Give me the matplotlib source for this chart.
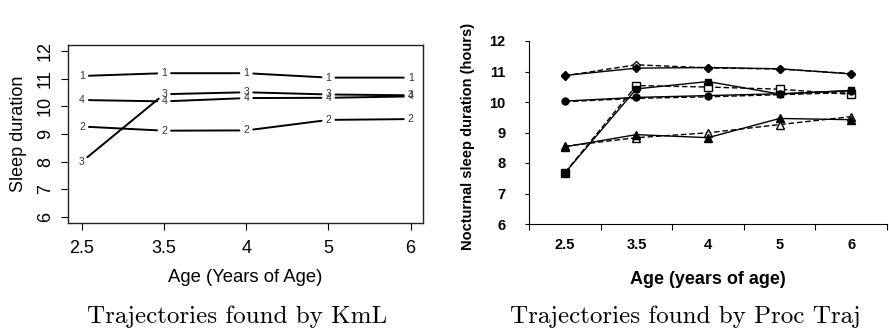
import numpy as np
import matplotlib.pyplot as plt

plt.rcParams['font.family'] = ['Liberation Sans', 'DejaVu Sans']

ages = ['2.5', '3.5', '4', '5', '6']

# KmL clusters (left panel)
kml_1 = [11.10, 11.20, 11.20, 11.04, 11.04]
kml_2 = [9.27, 9.12, 9.13, 9.51, 9.54]
kml_3 = [8.00, 10.44, 10.51, 10.43, 10.40]
kml_4 = [10.23, 10.18, 10.30, 10.31, 10.36]
kml_series = [('1', kml_1), ('2', kml_2), ('3', kml_3), ('4', kml_4)]

# Proc Traj groups (right panel): observed (solid, filled) and predicted (dashed, open)
obs_diamond = [10.87, 11.11, 11.13, 11.09, 10.92]
pred_diamond = [10.86, 11.22, 11.12, 11.08, 10.93]
obs_circle = [10.03, 10.15, 10.21, 10.27, 10.37]
pred_circle = [10.01, 10.12, 10.17, 10.24, 10.31]
obs_square = [7.67, 10.43, 10.67, 10.26, 10.38]
pred_square = [7.68, 10.54, 10.49, 10.42, 10.25]
obs_triangle = [8.53, 8.93, 8.83, 9.46, 9.42]
pred_triangle = [8.55, 8.83, 8.99, 9.26, 9.52]

fig = plt.figure(figsize=(8.89, 3.33), dpi=100)

# ---- left panel: KmL ----
ax1 = fig.add_axes([68/889, 1-223/333, 355/889, 178/333])
x = np.arange(len(ages))
for lab, vals in kml_series:
    for i in range(len(x) - 1):
        ax1.annotate('', xy=(x[i+1], vals[i+1]), xytext=(x[i], vals[i]),
                     arrowprops=dict(arrowstyle='-', color='black', lw=1.4,
                                     shrinkA=5, shrinkB=5))
    for xi, v in zip(x, vals):
        ax1.text(xi, v, lab, ha='center', va='center', fontsize=7.5,
                 color='#333333')
ax1.set_xlim(-0.17, 4.15)
ax1.set_ylim(5.78, 12.22)
ax1.set_xticks(x, ages)
ax1.set_yticks(range(6, 13))
ax1.set_yticklabels([str(v) for v in range(6, 13)], rotation=90, va='center')
ax1.tick_params(axis='both', labelsize=13, length=5, width=0.8)
ax1.tick_params(axis='x', pad=7)
ax1.tick_params(axis='y', pad=5)
for s in ax1.spines.values():
    s.set_linewidth(1.0)
    s.set_color('#222222')
ax1.set_xlabel('Age (Years of Age)', fontsize=13.3, labelpad=9)
ax1.set_ylabel('Sleep duration', fontsize=13, labelpad=7)

# ---- right panel: Proc Traj ----
ax2 = fig.add_axes([529/889, 1-224/333, 358/889, 183/333])
dash = (0, (4, 2))
ax2.plot(x, pred_diamond, linestyle=dash, color='black', lw=1, marker='D',
         ms=4.5, mfc='white', mec='black', zorder=2)
ax2.plot(x, pred_circle, linestyle=dash, color='black', lw=1, zorder=2)
ax2.plot(x, pred_square, linestyle=dash, color='black', lw=1, marker='s',
         ms=5.5, mfc='white', mec='black', zorder=2)
ax2.plot(x, pred_triangle, linestyle=dash, color='black', lw=1, marker='^',
         ms=6, mfc='white', mec='black', zorder=2)
ax2.plot(x, obs_diamond, '-', color='black', lw=1, marker='D', ms=4.5, zorder=3)
ax2.plot(x, obs_circle, '-', color='black', lw=1, marker='o', ms=5, zorder=3)
ax2.plot(x, obs_square, '-', color='black', lw=1, marker='s', ms=5, zorder=3)
ax2.plot(x, obs_triangle, '-', color='black', lw=1, marker='^', ms=5.5, zorder=3)

ax2.set_xlim(-0.5, 4.5)
ax2.set_ylim(6, 12)
ax2.set_xticks(x, ages)
ax2.set_xticks(np.arange(-0.5, 5.0, 1.0), minor=True)
ax2.set_yticks(range(6, 13))
ax2.tick_params(axis='x', which='major', length=0, pad=10)
ax2.tick_params(axis='x', which='minor', length=4, width=0.8)
ax2.tick_params(axis='y', length=3, width=0.8, pad=14)
for lbl in ax2.get_xticklabels() + ax2.get_yticklabels():
    lbl.set_fontsize(10.5)
    lbl.set_fontweight('bold')
ax2.spines['top'].set_visible(False)
ax2.spines['right'].set_visible(False)
ax2.spines['left'].set_linewidth(0.8)
ax2.spines['bottom'].set_linewidth(0.8)
ax2.set_xlabel('Age (years of age)', fontsize=13, fontweight='bold', labelpad=14)
ax2.set_ylabel('Nocturnal sleep duration (hours)', fontsize=10.5,
               fontweight='bold')
ax2.yaxis.set_label_coords(-0.15, 0.48)

# captions
fig.text(237/889, 1-323/333, 'Trajectories found by KmL', ha='center',
         va='baseline', fontsize=18, family='cmr10')
fig.text(685/889, 1-323/333, 'Trajectories found by Proc Traj', ha='center',
         va='baseline', fontsize=18, family='cmr10')

fig.savefig('out.png', dpi=100)
